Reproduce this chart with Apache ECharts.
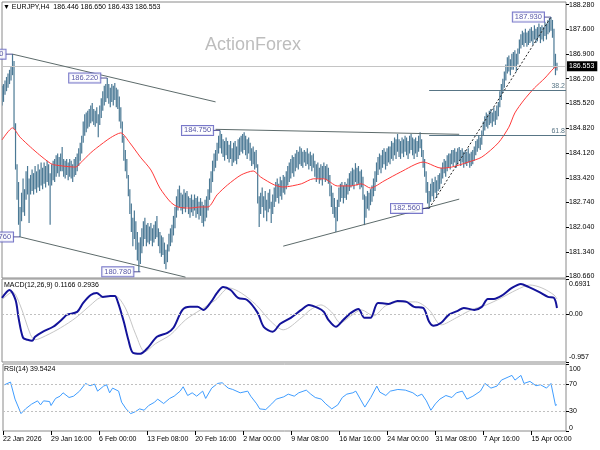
<!DOCTYPE html>
<html><head><meta charset="utf-8">
<script src="https://cdn.jsdelivr.net/npm/echarts@6/dist/echarts.min.js"></script>
<style>html,body{margin:0;padding:0;background:#fff}#c{width:600px;height:450px}</style>
</head><body><div id="c"></div>
<script>
const FONT = 'Liberation Sans, Arial, sans-serif';
const slotCount = 376;
const tickBars = [0,32,64,96,128,160,192,224,256,288,320,352];
const tickLabels = ['22 Jan 2026','29 Jan 16:00','6 Feb 00:00','13 Feb 08:00','20 Feb 16:00','2 Mar 00:00','9 Mar 08:00','16 Mar 16:00','24 Mar 00:00','31 Mar 08:00','7 Apr 16:00','15 Apr 00:00'];
const priceTicks = [188.28,187.6,186.9,186.2,185.52,184.82,184.12,183.42,182.74,182.04,181.34,180.66];

const lows = [
185.45,185.55,185.75,185.85,185.95,186.05,186.15,186.30,184.78,183.65,
182.80,182.10,181.76,182.20,182.45,182.35,182.80,182.95,182.15,182.95,
183.05,182.95,183.10,183.00,183.15,183.05,183.20,183.10,183.25,183.15,
183.30,183.20,182.10,183.20,183.35,183.30,183.45,183.55,183.45,183.60,
183.60,183.45,183.40,183.50,183.35,183.45,183.40,183.30,183.45,183.50,
183.60,183.75,183.90,184.10,184.40,184.60,184.70,184.80,184.85,184.95,
185.00,184.90,184.85,184.95,184.56,184.90,185.10,185.30,185.45,185.55,
185.65,185.50,185.40,185.55,185.45,185.60,185.40,185.35,185.00,184.80,
184.40,183.90,183.60,183.40,182.90,182.40,181.90,181.50,181.70,181.40,
181.10,180.78,181.00,181.30,181.50,181.70,181.50,181.60,181.55,181.65,
181.50,181.60,181.70,181.75,181.50,181.30,181.20,181.25,181.00,180.85,
181.05,181.35,181.50,181.60,181.80,182.00,182.30,182.50,182.60,182.50,
182.40,182.55,182.45,182.60,182.40,182.30,182.45,182.35,182.50,182.30,
182.40,182.25,182.35,182.15,182.05,182.20,182.30,182.50,182.80,183.00,
183.30,183.60,183.70,183.90,184.10,184.25,184.10,184.00,183.90,184.05,
183.95,183.85,183.95,183.75,183.85,183.90,183.80,183.95,184.05,184.15,
184.10,184.20,184.05,183.95,184.10,183.90,183.75,183.80,183.65,183.70,
182.70,182.04,182.40,182.60,182.30,182.50,182.20,182.45,182.55,182.15,
182.40,182.60,182.75,182.85,182.70,182.90,182.80,183.00,182.95,183.10,
183.20,183.30,183.40,183.55,183.45,183.60,183.70,183.65,183.80,183.75,
183.70,183.85,183.75,183.80,183.65,183.75,183.60,183.70,183.45,183.30,
183.40,183.25,183.35,183.20,183.40,183.30,183.35,183.25,182.90,182.60,
182.40,182.30,181.90,182.20,182.60,182.75,182.85,182.70,182.85,182.80,
182.95,183.05,183.15,183.20,183.10,183.30,183.20,183.25,183.10,183.15,
182.80,182.09,182.30,182.55,182.50,182.65,182.75,182.90,183.05,183.30,
183.50,183.65,183.55,183.70,183.80,183.65,183.75,183.85,183.80,183.95,
183.90,184.05,183.95,184.15,184.00,183.95,184.10,184.00,184.15,184.05,
183.95,184.10,184.20,184.05,183.95,184.10,184.00,184.15,184.25,184.00,
183.70,183.45,183.00,182.70,182.56,182.75,182.90,182.80,183.00,182.85,
183.05,183.10,183.25,183.40,183.55,183.45,183.60,183.70,183.65,183.80,
183.75,183.85,183.70,183.80,183.90,183.75,183.85,183.70,183.80,183.75,
183.85,183.70,183.75,183.80,183.90,184.05,184.15,184.25,184.20,184.35,
184.60,184.75,184.85,184.80,184.90,184.95,184.85,185.00,184.90,185.05,
185.15,185.40,185.60,185.80,185.95,186.15,186.35,186.40,186.30,186.45,
186.45,186.55,186.40,186.60,186.90,187.05,187.15,187.10,187.20,187.10,
187.15,187.20,187.25,187.15,187.30,187.20,187.25,187.35,187.20,187.30,
187.25,187.40,187.30,187.45,187.50,187.55,187.35,186.50,186.30,186.43];

const highs = [
186.00,186.05,186.15,186.25,186.35,186.45,186.55,186.89,186.70,184.95,
183.80,183.30,182.60,183.00,183.40,183.10,183.60,183.75,183.40,183.50,
183.65,183.55,183.75,183.60,183.80,183.65,183.85,183.70,183.85,183.75,
183.90,183.80,183.55,183.80,183.90,183.95,184.05,184.10,184.00,184.10,
184.28,183.95,183.90,183.95,183.85,183.95,183.90,183.80,183.95,184.00,
184.10,184.25,184.40,184.60,185.00,185.20,185.25,185.30,185.35,185.45,
185.52,185.35,185.30,185.40,185.20,185.45,185.65,185.85,186.00,186.05,
186.22,186.05,185.95,186.05,186.00,186.08,185.95,185.90,185.70,185.40,
185.00,184.60,184.20,183.95,183.50,183.10,182.70,182.30,182.50,182.20,
181.90,181.60,181.75,182.00,182.20,182.30,182.10,182.15,182.05,182.15,
182.00,182.10,182.20,182.35,182.00,181.90,181.80,181.75,181.60,181.40,
181.55,181.85,182.00,182.10,182.35,182.60,182.90,183.10,183.20,183.00,
182.95,183.10,183.00,183.05,182.90,182.85,182.95,182.80,182.95,182.85,
182.90,182.75,182.85,182.75,182.65,182.80,182.90,183.10,183.40,183.60,
183.90,184.10,184.20,184.40,184.60,184.75,184.65,184.50,184.45,184.55,
184.45,184.35,184.45,184.25,184.40,184.45,184.30,184.50,184.55,184.60,
184.65,184.70,184.60,184.50,184.55,184.40,184.25,184.30,184.15,184.20,
183.80,182.90,183.00,183.15,182.90,183.05,182.80,183.00,183.10,182.75,
182.95,183.15,183.30,183.40,183.25,183.45,183.35,183.50,183.45,183.60,
183.75,183.85,183.95,184.05,184.00,184.10,184.20,184.15,184.30,184.25,
184.15,184.20,184.15,184.25,184.10,184.15,184.05,184.10,183.90,183.80,
183.85,183.70,183.80,183.75,183.85,183.75,183.80,183.70,183.50,183.20,
183.00,182.85,182.60,182.80,183.15,183.25,183.30,183.20,183.30,183.25,
183.40,183.55,183.60,183.70,183.65,183.83,183.70,183.75,183.60,183.65,
183.45,182.95,182.90,183.05,183.00,183.10,183.20,183.40,183.60,183.85,
184.00,184.10,184.05,184.20,184.25,184.15,184.25,184.30,184.30,184.45,
184.40,184.55,184.50,184.65,184.50,184.45,184.55,184.50,184.60,184.55,
184.45,184.60,184.65,184.55,184.50,184.55,184.45,184.60,184.70,184.50,
184.20,183.95,183.60,183.30,183.05,183.25,183.40,183.30,183.45,183.35,
183.50,183.55,183.70,183.85,183.95,183.90,184.05,184.10,184.10,184.20,
184.20,184.25,184.15,184.25,184.28,184.20,184.25,184.15,184.20,184.15,
184.25,184.10,184.15,184.20,184.30,184.45,184.50,184.60,184.55,184.75,
185.00,185.15,185.25,185.20,185.30,185.35,185.25,185.40,185.30,185.45,
185.55,185.85,186.05,186.20,186.40,186.60,186.80,186.85,186.75,186.90,
186.95,187.00,186.90,187.05,187.30,187.45,187.55,187.50,187.60,187.50,
187.55,187.60,187.65,187.55,187.70,187.60,187.65,187.75,187.65,187.70,
187.65,187.80,187.75,187.85,187.90,187.93,187.85,187.60,186.90,186.65];

const maBars = [0,7,12,19,25,32,35,49,52,59,63,72,79,85,92,99,105,112,117,125,132,137,143,150,159,167,172,181,187,199,207,214,223,232,239,245,254,265,280,283,292,299,310,319,330,337,341,347,354,361,367,369];
const maValues = [184.48,184.82,184.56,184.28,184.06,183.83,183.78,183.72,183.83,184.12,184.26,184.54,184.68,184.40,184.00,183.64,183.13,182.74,182.60,182.57,182.60,182.60,182.94,183.22,183.50,183.61,183.44,183.22,183.16,183.25,183.39,183.39,183.19,183.19,183.25,183.13,183.33,183.58,183.86,183.83,183.69,183.72,183.86,184.00,184.40,184.84,185.24,185.60,185.94,186.22,186.50,186.53];

const macdBars = [0,5,9,11,14,17,20,22,27,34,41,43,50,54,59,63,67,72,75,77,81,84,87,92,97,103,110,114,120,125,130,134,139,143,147,152,157,163,170,174,180,185,192,199,204,210,214,217,222,227,232,237,241,245,250,257,263,269,274,280,284,287,292,297,303,307,314,319,323,327,332,339,345,350,357,363,367,369];
const macdValues = [0.317,0.475,0.277,-0.079,-0.475,-0.515,-0.535,-0.455,-0.356,-0.257,-0.079,-0.020,0.040,0.218,0.376,0.416,0.337,0.356,0.356,0.238,-0.158,-0.515,-0.772,-0.792,-0.673,-0.455,-0.376,-0.277,0.079,0.139,0.139,0.079,0.238,0.416,0.535,0.475,0.317,0.277,0.020,-0.257,-0.356,-0.198,-0.079,0.079,0.178,0.119,0.040,-0.119,-0.257,-0.119,0.020,0.099,-0.079,-0.079,0.218,0.198,0.257,0.238,0.139,0.119,-0.158,-0.238,-0.178,-0.020,0.059,0.119,0.079,0.139,0.297,0.297,0.356,0.515,0.594,0.535,0.436,0.337,0.317,0.117];
const signalBars = [0,7,12,19,22,29,39,49,59,65,75,82,89,95,102,112,122,132,142,151,159,169,179,187,199,205,212,219,225,232,239,247,255,265,275,284,292,302,312,322,332,342,351,359,367,369];
const signalValues = [0.277,0.436,0.178,-0.416,-0.515,-0.436,-0.277,-0.079,0.178,0.317,0.356,0.119,-0.416,-0.752,-0.594,-0.416,-0.119,0.079,0.277,0.515,0.416,0.178,-0.158,-0.317,-0.079,0.079,0.178,0.040,-0.178,-0.040,0.079,-0.040,0.158,0.238,0.238,0.079,-0.218,-0.079,0.079,0.178,0.317,0.475,0.574,0.515,0.376,0.294];

const rsiBars = [1,5,6,8,12,15,19,23,25,27,31,32,35,38,40,44,47,51,55,58,61,63,67,69,71,73,77,79,82,85,88,91,94,97,101,103,107,111,114,118,120,123,126,129,133,135,139,143,146,150,153,158,163,165,169,171,175,179,182,187,190,194,197,202,205,208,212,215,219,223,226,229,233,235,238,241,245,249,251,255,258,263,268,273,276,279,282,285,288,291,295,299,302,306,309,313,318,321,325,329,332,337,339,341,345,347,351,355,358,362,365,368,369];
const rsiValues = [69,73,71,47.6,26,33,40,45,39,45,44,38,48.6,52,57,50,52,59.5,71,67.6,70,59.5,67,69,57,64,59.5,43,33,26,28.6,33,31,38,43,47.6,41,48.6,52,59.5,66,53,57,52,59.5,48.6,64,71,72,64,62,57,59.5,52,40.5,33,32,40.5,47.6,51,55,52,57,61,55,50,47.6,40.5,33,39,50,55,57,59.5,47.6,35.7,50,67,58,53,59.5,62,61,57,52,55,45,31,40.5,47.6,53,50,57,59.5,47.6,52,59.5,71,64,67,76,81,83,76,83,71,74,67.6,69,64,71,38,39.5];

const lastPrice = 186.553;
const labelBars = [7,12,70,92,145,284,365];
const labelPrices = [186.89,181.76,186.22,180.78,184.75,182.56,187.93];
const labelTexts = ['186.890','181.760','186.220','180.780','184.750','182.560','187.930'];
const trendStart = [[7,186.89],[12,181.76],[142,184.78],[187,181.50]];
const trendEnd = [[142,185.55],[122,180.63],[304,184.64],[304,182.82]];
const swingStart = [284,182.56];
const swingEnd = [365,187.93];
const fibNames = ['38.2','61.8'];
const fibPrices = [185.879,184.611];
const fibFromBar = 284, fibToBar = 375;

const cats = Array.from({length: slotCount}, (_, i) => String(i));
const pairs = (xs, ys) => xs.map((x, i) => [x, ys[i]]);

const chart = echarts.init(document.getElementById('c'), null, {renderer: 'canvas'});
const gridBase = {show: true, borderColor: '#8a8a8a', borderWidth: 1, backgroundColor: '#fff', containLabel: false};
const xBase = {type: 'category', data: cats, boundaryGap: false, axisLine: {show: false}, axisTick: {show: false}, axisLabel: {show: false}, splitLine: {show: false}};
const lab = {fontSize: 7, fontFamily: FONT, color: '#000'};

const markLineData = [
  {yAxis: lastPrice, lineStyle: {color: '#c4c4c4', width: 1, type: 'solid'},
   label: {show: true, position: 'end', distance: 1, formatter: '186.553', backgroundColor: '#000', color: '#fff', padding: [2, 3, 1, 2], fontSize: 7, fontFamily: FONT}}
];
trendStart.forEach((s, i) => markLineData.push([
  {coord: s, lineStyle: {color: '#5d6b6b', width: 1, type: 'solid'}, label: {show: false}},
  {coord: trendEnd[i]}
]));
markLineData.push([
  {coord: swingStart, lineStyle: {color: '#222', width: 1, type: [2, 2]}, label: {show: false}},
  {coord: swingEnd}
]);
fibPrices.forEach((p, i) => markLineData.push([
  {coord: [fibFromBar, p], lineStyle: {color: '#587585', width: 1, type: 'solid'},
   label: {show: true, position: 'insideEndTop', formatter: fibNames[i], color: '#587585', fontSize: 7, fontFamily: FONT, distance: 1}},
  {coord: [fibToBar, p]}
]));

const option = {
  animation: false,
  backgroundColor: '#fff',
  grid: [
    Object.assign({left: 2, top: 2, width: 564, height: 276}, gridBase),
    Object.assign({left: 2, top: 279, width: 564, height: 83}, gridBase),
    Object.assign({left: 2, top: 364, width: 564, height: 67}, gridBase)
  ],
  xAxis: [
    Object.assign({gridIndex: 0}, xBase),
    Object.assign({gridIndex: 1}, xBase),
    Object.assign({}, xBase, {gridIndex: 2,
      axisTick: {show: true, length: 4, interval: (i) => tickBars.includes(i), lineStyle: {color: '#000'}},
      axisLabel: {show: true, interval: (i) => tickBars.includes(i), formatter: (v, i) => tickLabels[tickBars.indexOf(i)] || '', align: 'left', margin: 5, fontSize: 7, fontFamily: FONT, color: '#000'}})
  ],
  yAxis: [
    {gridIndex: 0, type: 'value', position: 'right', min: 180.606, max: 188.354, splitLine: {show: false}, axisLine: {show: false},
     axisTick: {show: true, length: 3, customValues: priceTicks, lineStyle: {color: '#000'}},
     axisLabel: Object.assign({customValues: priceTicks, formatter: v => v.toFixed(3), margin: 3}, lab)},
    {gridIndex: 1, type: 'value', position: 'right', min: -0.957, max: 0.6931, splitLine: {show: false}, axisLine: {show: false},
     axisTick: {show: true, length: 3, customValues: [0.6931, 0, -0.957], lineStyle: {color: '#000'}},
     axisLabel: Object.assign({customValues: [0.6931, 0, -0.957], margin: 3,
       formatter: v => v > 0.5 ? '{t|0.6931}' : (v < -0.5 ? '{b|-0.957}' : '{m|0.00}'),
       rich: {t: Object.assign({padding: [10, 0, 0, 0]}, lab), b: Object.assign({padding: [0, 0, 10, 0]}, lab), m: Object.assign({}, lab)}}, lab)},
    {gridIndex: 2, type: 'value', position: 'right', min: 0, max: 100, splitLine: {show: false}, axisLine: {show: false},
     axisTick: {show: true, length: 3, customValues: [100, 70, 30, 0], lineStyle: {color: '#000'}},
     axisLabel: Object.assign({customValues: [100, 70, 30, 0], margin: 3,
       formatter: v => v === 100 ? '{t|100}' : (v === 0 ? '{b|0}' : '{m|' + v + '}'),
       rich: {t: Object.assign({padding: [10, 0, 0, 0]}, lab), b: Object.assign({padding: [0, 0, 6, 0]}, lab), m: Object.assign({}, lab)}}, lab)}
  ],
  series: [
    {type: 'custom', xAxisIndex: 0, yAxisIndex: 0, silent: true, clip: true,
     data: lows.map((l, i) => [i, l, highs[i]]), encode: {x: 0, y: [1, 2]},
     renderItem: (params, api) => {
       const a = api.coord([api.value(0), api.value(1)]);
       const b = api.coord([api.value(0), api.value(2)]);
       return {type: 'line', shape: {x1: a[0], y1: a[1], x2: b[0], y2: b[1]}, style: {stroke: '#4b7995', lineWidth: 1.2}};
     }},
    {type: 'line', xAxisIndex: 0, yAxisIndex: 0, silent: true, data: pairs(maBars, maValues), showSymbol: false, smooth: 0.25,
     lineStyle: {color: '#ff3a3a', width: 1}, z: 3,
     markLine: {silent: true, symbol: ['none', 'none'], data: markLineData}},
    {type: 'scatter', xAxisIndex: 0, yAxisIndex: 0, silent: true, clip: false, z: 6,
     data: pairs(labelBars, labelPrices), symbol: 'rect', symbolSize: [7, 1], symbolOffset: [-3.5, 0],
     itemStyle: {color: '#25257a'},
     label: {show: true, position: 'left', distance: 0, formatter: p => labelTexts[p.dataIndex], fontSize: 7.5, fontFamily: FONT,
       color: '#2a2a90', backgroundColor: '#fff', borderColor: '#5656bb', borderWidth: 1, padding: [1, 2, 0, 2]}},
    {type: 'line', xAxisIndex: 1, yAxisIndex: 1, silent: true, data: pairs(signalBars, signalValues), showSymbol: false, smooth: 0.3,
     lineStyle: {color: '#c6c6c6', width: 1},
     markLine: {silent: true, symbol: ['none', 'none'], label: {show: false}, lineStyle: {color: '#c0c0c0', type: [2, 2], width: 1}, data: [{yAxis: 0}]}},
    {type: 'line', xAxisIndex: 1, yAxisIndex: 1, silent: true, data: pairs(macdBars, macdValues), showSymbol: false, smooth: 0.3,
     lineStyle: {color: '#13139a', width: 2}},
    {type: 'line', xAxisIndex: 2, yAxisIndex: 2, silent: true, data: pairs(rsiBars, rsiValues), showSymbol: false,
     lineStyle: {color: '#3f9dff', width: 1},
     markLine: {silent: true, symbol: ['none', 'none'], label: {show: false}, lineStyle: {color: '#c0c0c0', type: [2, 2], width: 1}, data: [{yAxis: 70}, {yAxis: 30}]}}
  ],
  graphic: [
    {type: 'text', left: 3, top: 4, z: 10, style: {text: '▼ EURJPY,H4  186.446 186.650 186.433 186.553', font: '7px ' + FONT, fill: '#000'}},
    {type: 'text', left: 205, top: 36, z: 1, style: {text: 'ActionForex', font: '18px ' + FONT, fill: '#bdbdbd'}},
    {type: 'text', left: 4, top: 282, z: 10, style: {text: 'MACD(12,26,9) 0.1166 0.2936', font: '7px ' + FONT, fill: '#000'}},
    {type: 'text', left: 4, top: 366, z: 10, style: {text: 'RSI(14) 39.5424', font: '7px ' + FONT, fill: '#000'}}
  ]
};
chart.setOption(option);
</script></body></html>
